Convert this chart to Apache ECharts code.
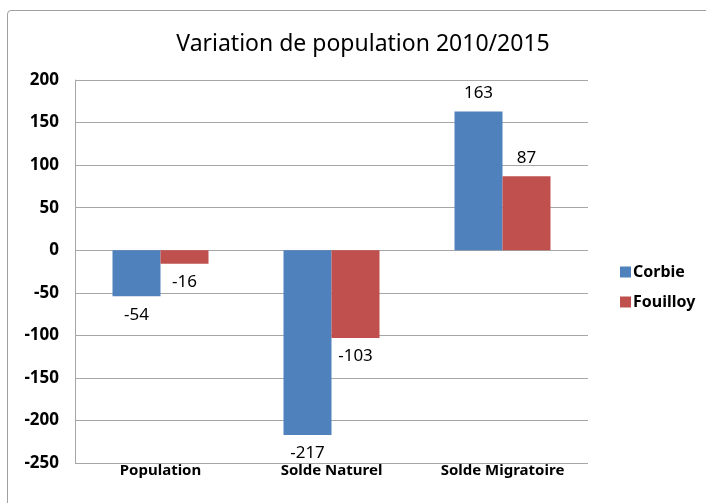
<!DOCTYPE html>
<html><head><meta charset="utf-8">
<script src="https://cdn.jsdelivr.net/npm/echarts@6/dist/echarts.min.js"></script>
<style>html,body{margin:0;padding:0;background:#fff}#c{width:706px;height:503px}
#frame{position:absolute;left:7px;top:10px;width:710px;height:500px;border:1.5px solid #a0a0a0;border-radius:4px;pointer-events:none}</style>
</head><body><div id="c"></div><div id="frame"></div>
<script>
const categories = ['Population', 'Solde Naturel', 'Solde Migratoire'];
const corbie = [-54, -217, 163];
const fouilloy = [-16, -103, 87];
const seriesNames = ['Corbie', 'Fouilloy'];
const yMin = -250, yMax = 200, yStep = 50;

const font = '"Noto Sans", "Open Sans", sans-serif';
function mk(vals){
  return vals.map(v => ({value: v, label: {position: v < 0 ? 'bottom' : 'top'}}));
}
const chart = echarts.init(document.getElementById('c'));
chart.setOption({
  animation: false,
  title: {text: 'Variation de population 2010/2015', left: 358, top: 28, textAlign: 'center',
    textStyle: {fontFamily: font, fontSize: 23, fontWeight: 'normal', color: '#000'}},
  grid: {left: 75, right: 118, top: 80, bottom: 40, containLabel: false},
  legend: {orient: 'vertical', left: 615, top: 259, itemWidth: 11, itemHeight: 11, itemGap: 14,
    icon: 'rect', data: seriesNames,
    textStyle: {fontFamily: font, fontSize: 16, fontWeight: 'bold', color: '#000', padding: [0,0,0,-3]}},
  xAxis: {type: 'category', data: categories, position: 'bottom',
    axisLine: {show: false, onZero: false}, axisTick: {show: false},
    axisLabel: {interval: 0, hideOverlap: false, fontFamily: font, fontSize: 15, fontWeight: 'bold', color: '#000', margin: 0}},
  yAxis: {type: 'value', min: yMin, max: yMax, interval: yStep,
    axisLine: {show: true, lineStyle: {color: '#a6a6a6', width: 1}},
    axisTick: {show: false},
    splitLine: {lineStyle: {color: '#a6a6a6', width: 1.2}},
    axisLabel: {fontFamily: font, fontSize: 17, fontWeight: 'bold', color: '#000', margin: 16}},
  series: [
    {name: seriesNames[0], type: 'bar', data: mk(corbie), barWidth: 48, barGap: '0%',
      itemStyle: {color: '#4F81BD'},
      label: {show: true, fontFamily: font, fontSize: 17, color: '#000', distance: 10}},
    {name: seriesNames[1], type: 'bar', data: mk(fouilloy), barWidth: 48, barGap: '0%',
      itemStyle: {color: '#C0504D'},
      label: {show: true, fontFamily: font, fontSize: 17, color: '#000', distance: 10}}
  ]
});
</script></body></html>
